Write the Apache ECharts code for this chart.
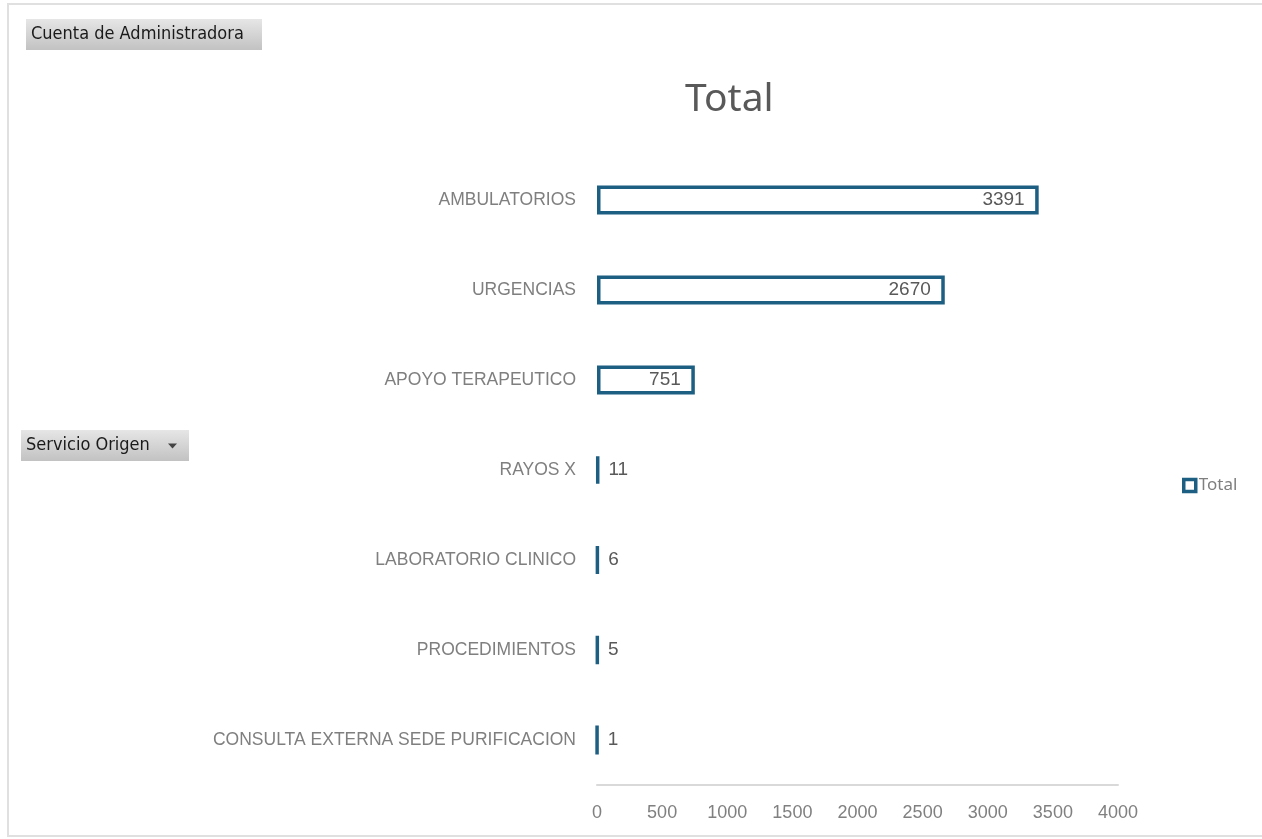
<!DOCTYPE html>
<html>
<head>
<meta charset="utf-8">
<script src="https://cdn.jsdelivr.net/npm/echarts@6/dist/echarts.min.js"></script>
<style>
  html, body { margin: 0; padding: 0; background: #fff; }
  #chart { width: 1262px; height: 839px; }
</style>
</head>
<body>
<div id="chart"></div>
<script>
// categorias (de abajo hacia arriba, como las pinta el eje)
var categorias = ['CONSULTA EXTERNA SEDE PURIFICACION', 'PROCEDIMIENTOS', 'LABORATORIO CLINICO',
  'RAYOS X', 'APOYO TERAPEUTICO', 'URGENCIAS', 'AMBULATORIOS']
var valores = [1, 5, 6, 11, 751, 2670, 3391]
var ticksX = [0, 500, 1000, 1500, 2000, 2500, 3000, 3500, 4000]

var azul = '#1c5f82'
var chart = echarts.init(document.getElementById('chart'))

// datos con la etiqueta dentro para barras grandes, fuera para pequeñas
var datos = valores.map(function (v) {
  return {
    value: v,
    label: { position: v > 500 ? 'insideRight' : 'right', distance: v > 500 ? 14 : 9 }
  }
})

// botones grises de la tabla dinamica
function boton(x, y, w, h, texto, flecha) {
  var hijos = [
    {
      type: 'rect',
      shape: { x: 0, y: 0, width: w, height: h },
      style: {
        fill: new echarts.graphic.LinearGradient(0, 0, 0, 1, [
          { offset: 0, color: '#e6e6e6' },
          { offset: 1, color: '#c2c2c2' }
        ])
      }
    },
    {
      type: 'text',
      left: 5, top: 6,
      style: { text: texto, fill: '#1a1a1a', font: '18px "DejaVu Sans Condensed", "Noto Sans", sans-serif' }
    }
  ]
  if (flecha) {
    hijos.push({
      type: 'polygon',
      shape: { points: [[w - 21, h / 2 - 2], [w - 12, h / 2 - 2], [w - 16.5, h / 2 + 3]] },
      style: { fill: '#444' }
    })
  }
  return { type: 'group', left: x, top: y, children: hijos }
}

var option = {
  backgroundColor: '#fff',
  animation: false,
  title: {
    text: 'Total',
    left: 680,
    top: 75,
    textStyle: { fontSize: 39, fontWeight: 'normal', color: '#595959', fontFamily: 'Noto Sans' }
  },
  legend: {
    data: ['Total'],
    left: 1177,
    top: 472,
    icon: 'rect',
    itemWidth: 12,
    itemHeight: 12,
    itemGap: 4,
    itemStyle: { borderWidth: 3.5 },
    textStyle: { color: '#7f7f7f', fontSize: 17, fontFamily: 'Noto Sans', padding: [0, 0, 0, -2] }
  },
  grid: { left: 597, right: 144, top: 155, bottom: 54, containLabel: false },
  xAxis: {
    type: 'value',
    min: 0,
    max: 4000,
    interval: 500,
    splitLine: { show: false },
    axisLine: { show: true, lineStyle: { color: '#d9d9d9', width: 2 } },
    axisTick: { show: false },
    axisLabel: {
      color: '#808080', fontSize: 18, margin: 19, fontFamily: 'Liberation Sans',
      formatter: function (v) { return ticksX.indexOf(v) >= 0 ? String(v) : '' }
    }
  },
  yAxis: {
    type: 'category',
    data: categorias,
    axisLine: { show: false },
    axisTick: { show: false },
    axisLabel: { color: '#7f7f7f', fontSize: 17.5, margin: 21, fontFamily: 'Liberation Sans' }
  },
  series: [
    {
      name: 'Total',
      type: 'bar',
      data: datos,
      barWidth: 29,
      itemStyle: { color: '#ffffff', borderColor: azul, borderWidth: 3.5 },
      label: { show: true, color: '#595959', fontSize: 19, fontFamily: 'Liberation Sans' }
    }
  ],
  graphic: [
    {
      type: 'rect',
      shape: { x: 8, y: 4, width: 1280, height: 832 },
      style: { fill: 'none', stroke: '#e0e0e0', lineWidth: 2 },
      silent: true
    },
    boton(26, 19, 236, 31, 'Cuenta de Administradora', false),
    boton(21, 430, 168, 31, 'Servicio Origen', true)
  ]
}

chart.setOption(option)
</script>
</body>
</html>
